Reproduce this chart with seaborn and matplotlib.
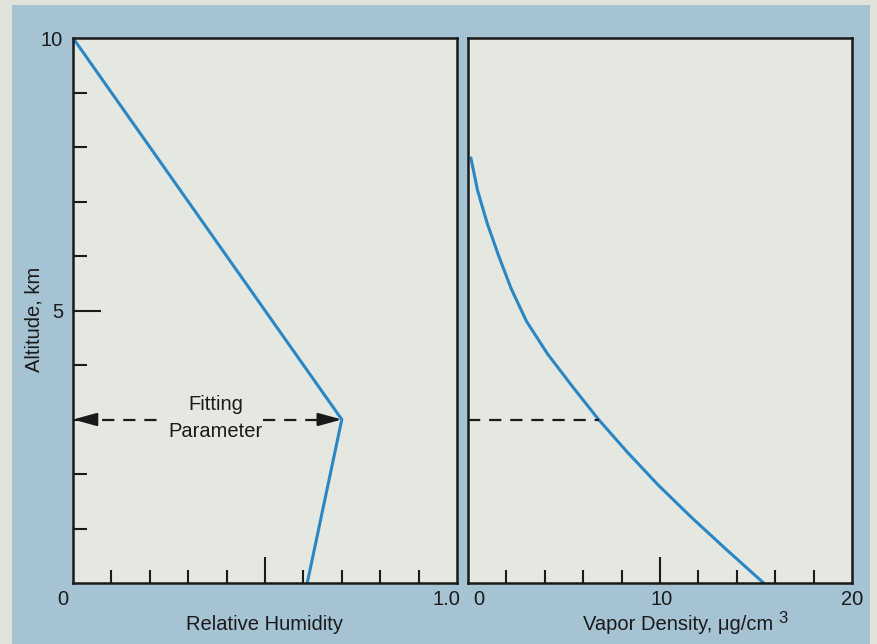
import matplotlib
matplotlib.use("Agg")
import matplotlib.pyplot as plt
from matplotlib.patches import Rectangle
from matplotlib.ticker import FixedLocator, NullFormatter
import seaborn as sns
import pandas as pd

# Relative humidity profile (piecewise linear, break at the fitting parameter)
rh_altitude = [0.0, 3.0, 10.0]
rh_value = [0.61, 0.70, 0.0]

# Vapor density profile, ug/cm^3
vd_altitude = [0.0, 0.6, 1.2, 1.8, 2.4, 3.0, 3.6, 4.2, 4.8, 5.4, 6.0, 6.6, 7.2, 7.8]
vd_value = [15.4, 13.5, 11.65, 9.9, 8.3, 6.8, 5.45, 4.15, 3.05, 2.25, 1.6, 1.0, 0.5, 0.15]

fit_altitude = 3.0
fit_rh = 0.70
fit_vd = 6.8

rh_ticks_minor = [0.1, 0.2, 0.3, 0.4, 0.6, 0.7, 0.8, 0.9]
rh_ticks_major = [0.5]
vd_ticks_minor = [2, 4, 6, 8, 12, 14, 16, 18]
vd_ticks_major = [10]
alt_ticks_minor = [1, 2, 3, 4, 6, 7, 8, 9]
alt_ticks_major = [5]

rh_df = pd.DataFrame({"altitude": rh_altitude, "rh": rh_value})
vd_df = pd.DataFrame({"altitude": vd_altitude, "vd": vd_value})

sns.set_theme(style="white")
plt.rcParams["font.family"] = ["Liberation Sans", "DejaVu Sans"]

W, H = 877, 644
fig = plt.figure(figsize=(W / 100, H / 100), dpi=100, facecolor="#e0e3da")

# blue backdrop behind both panels
fig.patches.append(Rectangle((12 / W, 0), (870 - 12) / W, (H - 5) / H,
                             transform=fig.transFigure, facecolor="#a6c3d4",
                             edgecolor="none", zorder=-10))

panel_bg = "#e4e8e0"
line_color = "#2b87c4"
ink = "#1a1a1a"
fs = 14.5

ax_bottom = (H - 583) / H
ax_height = (583 - 38) / H
ax1 = fig.add_axes([73 / W, ax_bottom, (457 - 73) / W, ax_height])
ax2 = fig.add_axes([468 / W, ax_bottom, (852 - 468) / W, ax_height])

for ax in (ax1, ax2):
    ax.set_facecolor(panel_bg)
    for sp in ax.spines.values():
        sp.set_color(ink)
        sp.set_linewidth(1.8)
    ax.set_ylim(0, 10)

ax1.set_xlim(0, 1.0)
ax2.set_xlim(0, 20)

sns.lineplot(data=rh_df, x="rh", y="altitude", sort=False, estimator=None,
             color=line_color, lw=2.2, ax=ax1)
sns.lineplot(data=vd_df, x="vd", y="altitude", sort=False, estimator=None,
             color=line_color, lw=2.2, ax=ax2)
for ax in (ax1, ax2):
    ax.set_xlabel("")
    ax.set_ylabel("")

# ticks pointing inward, no automatic labels
def style_ticks(ax, xmaj, xmin, ymaj=None, ymin=None):
    ax.xaxis.set_major_locator(FixedLocator(xmaj))
    ax.xaxis.set_minor_locator(FixedLocator(xmin))
    ax.xaxis.set_major_formatter(NullFormatter())
    ax.tick_params(axis="x", which="major", direction="in", length=19, width=1.5,
                   color=ink, bottom=True, top=False)
    ax.tick_params(axis="x", which="minor", direction="in", length=9.5, width=1.5,
                   color=ink, bottom=True, top=False)
    if ymaj is None:
        ax.set_yticks([])
    else:
        ax.yaxis.set_major_locator(FixedLocator(ymaj))
        ax.yaxis.set_minor_locator(FixedLocator(ymin))
        ax.yaxis.set_major_formatter(NullFormatter())
        ax.tick_params(axis="y", which="major", direction="in", length=20, width=1.5,
                       color=ink, left=True, right=False)
        ax.tick_params(axis="y", which="minor", direction="in", length=10, width=1.5,
                       color=ink, left=True, right=False)

style_ticks(ax1, rh_ticks_major, rh_ticks_minor, alt_ticks_major, alt_ticks_minor)
style_ticks(ax2, vd_ticks_major, vd_ticks_minor)

# tick labels
def xlabel_at(ax, val, text, dx):
    ax.annotate(text, xy=(val, 0), xycoords=("data", "axes fraction"),
                xytext=(dx, -22), textcoords="offset pixels",
                ha="center", va="baseline", fontsize=fs, color=ink)

xlabel_at(ax1, 0.0, "0", -10)
xlabel_at(ax1, 1.0, "1.0", -11)
xlabel_at(ax2, 0, "0", 11)
xlabel_at(ax2, 10, "10", 2)
xlabel_at(ax2, 20, "20", 0)

for val, text in ((10, "10"), (5, "5")):
    ax1.annotate(text, xy=(0, val), xycoords=("axes fraction", "data"),
                 xytext=(-10, -2), textcoords="offset pixels",
                 ha="right", va="center", fontsize=fs, color=ink)

# axis titles
ax1.annotate("Altitude, km", xy=(0, 0.5), xycoords="axes fraction",
             xytext=(-39, -9), textcoords="offset pixels", rotation=90,
             ha="center", va="center", fontsize=fs, color=ink)
ax1.annotate("Relative Humidity", xy=(0.5, 0), xycoords="axes fraction",
             xytext=(0, -47), textcoords="offset pixels",
             ha="center", va="baseline", fontsize=fs, color=ink)
ax2.annotate("Vapor Density, \u03bcg/cm", xy=(0.5, 0), xycoords="axes fraction",
             xytext=(18, -47), textcoords="offset pixels",
             ha="center", va="baseline", fontsize=fs, color=ink)
ax2.annotate("3", xy=(0.5, 0), xycoords="axes fraction",
             xytext=(118, -40), textcoords="offset pixels",
             ha="left", va="baseline", fontsize=12, color=ink)

# fitting parameter marker: dashed double arrow with caption
dash = (0, (5.5, 4.0))
ax1.plot([0.02, 0.225], [fit_altitude, fit_altitude], color=ink, lw=1.6, ls=dash)
ax1.plot([0.495, fit_rh - 0.03], [fit_altitude, fit_altitude], color=ink, lw=1.6, ls=dash)
for tip, tail in ((0.0, 0.05), (fit_rh, fit_rh - 0.05)):
    ax1.annotate("", xy=(tip, fit_altitude), xytext=(tail, fit_altitude),
                 arrowprops=dict(arrowstyle="-|>,head_length=0.8,head_width=0.22",
                                 color=ink, lw=1.6, shrinkA=0, shrinkB=0,
                                 mutation_scale=18))
ax1.text(0.372, fit_altitude + 0.1, "Fitting", ha="center", va="bottom",
         fontsize=fs, color=ink)
ax1.text(0.372, fit_altitude - 0.05, "Parameter", ha="center", va="top",
         fontsize=fs, color=ink)

ax2.plot([0, fit_vd], [fit_altitude, fit_altitude], color=ink, lw=1.6, ls=dash)

fig.savefig("out.png", dpi=100, facecolor=fig.get_facecolor())
